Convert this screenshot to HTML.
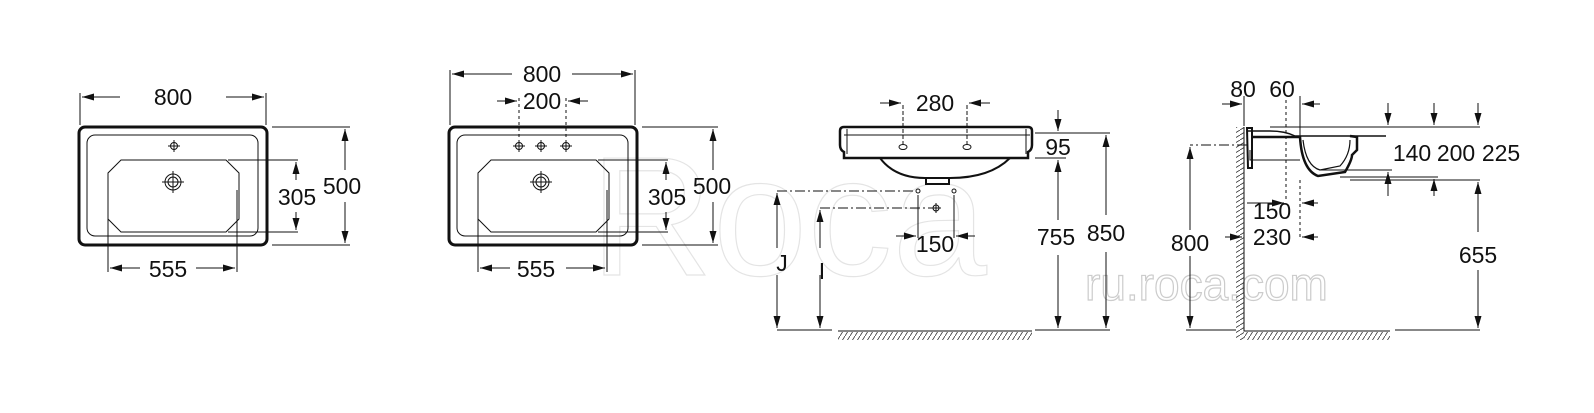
<!DOCTYPE html>
<html><head><meta charset="utf-8"><style>
html,body{margin:0;padding:0;background:#fff;width:1594px;height:413px;overflow:hidden}
text{font-family:"Liberation Sans",sans-serif;font-size:23px;fill:#111}
</style></head><body>
<svg width="1594" height="413" viewBox="0 0 1594 413" xmlns="http://www.w3.org/2000/svg">
<defs>
<marker id="a" viewBox="0 0 12 7" refX="12" refY="3.5" markerWidth="12" markerHeight="7" markerUnits="userSpaceOnUse" orient="auto"><path d="M0,0L12,3.5L0,7z" fill="#111"/></marker>
<pattern id="h" width="5" height="8" patternUnits="userSpaceOnUse"><path d="M5,0L0,8" stroke="#333" stroke-width="0.8"/></pattern>
<pattern id="hv" width="8" height="5" patternUnits="userSpaceOnUse"><path d="M0,5L8,0" stroke="#333" stroke-width="0.8"/></pattern>
</defs>
<g>
<text x="1085" y="300" style="font-size:46px;fill:none;stroke:#ccc;stroke-width:1.2">ru.roca.com</text>
<text x="590" y="275" style="font-size:170px;fill:none;stroke:#e4e4e4;stroke-width:1.2">Roca</text>
</g>
<g stroke="#111" stroke-width="1" fill="none">
<!-- VIEW 1 -->
<rect x="79" y="127" width="188" height="118" rx="6" stroke-width="3"/>
<rect x="87" y="135" width="171" height="101" rx="8"/>
<path d="M121,160 L226,160 L239,173 L239,219 L226,232 L121,232 L108,219 L108,173 Z"/>
<circle cx="173" cy="182" r="8"/><circle cx="173" cy="182" r="5"/><path d="M162,182h22M173,171v22"/>
<circle cx="174" cy="146" r="3.5"/><path d="M168,146h12M174,140v12"/>
<path d="M80,93v32M266,93v32"/>
<path d="M120,97H82" marker-end="url(#a)"/><path d="M226,97H264" marker-end="url(#a)"/>
<path d="M228,160H298M228,232H298"/>
<path d="M296,180V162" marker-end="url(#a)"/><path d="M296,212V230" marker-end="url(#a)"/>
<path d="M272,127H350M272,245H350"/>
<path d="M345,170V129" marker-end="url(#a)"/><path d="M345,202V243" marker-end="url(#a)"/>
<path d="M108,190V272M237,190V272"/>
<path d="M140,268H110" marker-end="url(#a)"/><path d="M196,268H235" marker-end="url(#a)"/>
<!-- VIEW 2 -->
<rect x="449" y="127" width="188" height="118" rx="6" stroke-width="3"/>
<rect x="457" y="135" width="171" height="101" rx="8"/>
<path d="M491,160 L596,160 L609,173 L609,219 L596,232 L491,232 L478,219 L478,173 Z"/>
<circle cx="541" cy="182" r="8"/><circle cx="541" cy="182" r="5"/><path d="M530,182h22M541,171v22"/>
<circle cx="519" cy="146" r="3.5"/><path d="M513,146h12M519,140v12"/>
<circle cx="541" cy="146" r="3.5"/><path d="M535,146h12M541,140v12"/>
<circle cx="566" cy="146" r="3.5"/><path d="M560,146h12M566,140v12"/>
<path d="M450,70v55M635,70v55"/>
<path d="M512,74H452" marker-end="url(#a)"/><path d="M572,74H633" marker-end="url(#a)"/>
<path d="M519,98v40M566,98v40" stroke-dasharray="3,3"/>
<path d="M497,101H517" marker-end="url(#a)"/><path d="M588,101H568" marker-end="url(#a)"/>
<path d="M598,160H668M598,232H668"/>
<path d="M666,180V162" marker-end="url(#a)"/><path d="M666,212V230" marker-end="url(#a)"/>
<path d="M642,127H718M642,245H718"/>
<path d="M713,170V129" marker-end="url(#a)"/><path d="M713,202V243" marker-end="url(#a)"/>
<path d="M478,190V272M607,190V272"/>
<path d="M510,268H480" marker-end="url(#a)"/><path d="M566,268H605" marker-end="url(#a)"/>
<!-- VIEW 3 -->
<path d="M844,127H1028Q1032,127 1032,131V145Q1032,150 1028,152V158H844V152Q840,150 840,145V131Q840,127 844,127Z" stroke-width="2.5"/>
<path d="M847,129V154M1026,129V154M844,135H1030"/>
<path d="M880,158Q895,178 925,178H950Q990,178 1010,158" stroke-width="2"/>
<rect x="926" y="178" width="23" height="6" stroke-width="2"/>
<ellipse cx="903" cy="147" rx="4" ry="2.5"/><ellipse cx="967" cy="147" rx="4" ry="2.5"/>
<path d="M903,105v40M967,105v40" stroke-dasharray="4,2"/>
<path d="M880,103H901" marker-end="url(#a)"/><path d="M990,103H969" marker-end="url(#a)"/>
<path d="M1035,133H1110M1035,158H1066"/>
<path d="M1058,110V131" marker-end="url(#a)"/>
<path d="M1058,220V160" marker-end="url(#a)"/><path d="M1058,255V328" marker-end="url(#a)"/>
<path d="M1106,215V135" marker-end="url(#a)"/><path d="M1106,252V328" marker-end="url(#a)"/>
<path d="M777,330H832M1035,330H1110"/>
<rect x="838" y="332" width="194" height="8" fill="url(#h)" stroke="none"/>
<path d="M838,331H1032"/>
<path d="M777,191H915M820,208H932" stroke-dasharray="10,3,2,3"/>
<circle cx="918" cy="191" r="2"/><circle cx="954" cy="191" r="2"/><circle cx="936" cy="208" r="3"/><path d="M931,208h10M936,203v10"/>
<path d="M918,195v43M954,195v43"/>
<path d="M896,236H916" marker-end="url(#a)"/><path d="M975,236H956" marker-end="url(#a)"/>
<path d="M777,248V193" marker-end="url(#a)"/><path d="M777,275V328" marker-end="url(#a)"/>
<path d="M820,248V210" marker-end="url(#a)"/><path d="M820,275V328" marker-end="url(#a)"/>
<!-- VIEW 4 -->
<rect x="1236" y="127" width="8" height="213" fill="url(#hv)" stroke="none"/>
<path d="M1244,127V331H1390"/>
<rect x="1244" y="332" width="146" height="8" fill="url(#h)" stroke="none"/>
<path d="M1395,330H1480M1186,330H1236"/>
<path d="M1247,131H1270Q1285,131 1295,136H1386" stroke-width="1.5"/>
<path d="M1247,128h5v40h-4z" stroke-width="2"/>
<path d="M1252,137H1300Q1302,170 1318,176L1345,172Q1352,160 1352,155L1357,150V137L1350,136" stroke-width="2.5"/>
<path d="M1303,140Q1306,166 1320,170L1340,166Q1350,155 1350,140" stroke-width="1.2"/>
<path d="M1250,150V160H1300" stroke-width="1"/>
<path d="M1247,145H1190" stroke-dasharray="10,3,2,3"/>
<path d="M1244,96v30M1300,96v40"/>
<path d="M1286,100v100" stroke-dasharray="3,3"/>
<path d="M1222,104H1242" marker-end="url(#a)"/><path d="M1320,104H1302" marker-end="url(#a)"/>
<path d="M1300,180V240" stroke-dasharray="3,3"/>
<path d="M1247,203H1284" marker-end="url(#a)"/><path d="M1318,203H1302" marker-end="url(#a)"/>
<path d="M1225,237H1242" marker-end="url(#a)"/><path d="M1318,237H1302" marker-end="url(#a)"/>
<path d="M1270,127H1480"/>
<path d="M1388,103V125" marker-end="url(#a)"/><path d="M1434,103V125" marker-end="url(#a)"/><path d="M1478,103V125" marker-end="url(#a)"/>
<path d="M1320,170H1392M1340,177H1438M1350,180H1480"/>
<path d="M1388,196V172" marker-end="url(#a)"/><path d="M1434,196V179" marker-end="url(#a)"/>
<path d="M1478,232V182" marker-end="url(#a)"/><path d="M1478,270V328" marker-end="url(#a)"/>
<path d="M1190,230V147" marker-end="url(#a)"/><path d="M1190,256V328" marker-end="url(#a)"/>
</g>
<g text-anchor="middle">
<text x="173" y="105">800</text><text x="297" y="205">305</text><text x="342" y="194">500</text><text x="168" y="277">555</text>
<text x="542" y="82">800</text><text x="542" y="109">200</text><text x="667" y="205">305</text><text x="712" y="194">500</text><text x="536" y="277">555</text>
<text x="935" y="111">280</text><text x="1058" y="155">95</text><text x="1056" y="245">755</text><text x="1106" y="241">850</text><text x="935" y="252">150</text>
<text x="782" y="271">J</text><text x="822" y="279">I</text>
<text x="1243" y="97">80</text><text x="1282" y="97">60</text>
<text x="1412" y="161">140</text><text x="1456" y="161">200</text><text x="1501" y="161">225</text>
<text x="1272" y="219">150</text><text x="1272" y="245">230</text>
<text x="1190" y="251">800</text><text x="1478" y="263">655</text>
</g>
</svg>
</body></html>
